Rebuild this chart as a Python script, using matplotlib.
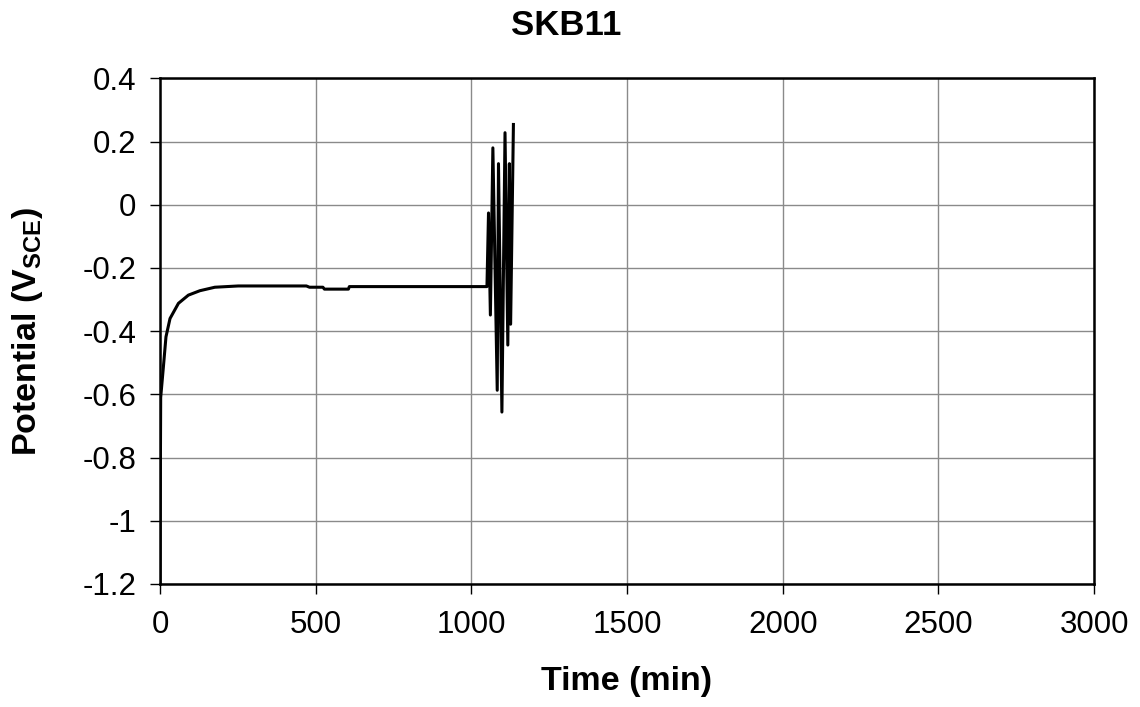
import numpy as np
import matplotlib
matplotlib.use("Agg")
import matplotlib.pyplot as plt

plt.rcParams['font.family'] = ['Liberation Sans', 'DejaVu Sans']
plt.rcParams['mathtext.fontset'] = 'custom'
plt.rcParams['mathtext.bf'] = 'Liberation Sans:bold'
plt.rcParams['mathtext.rm'] = 'Liberation Sans:bold'

# time (min) and potential (V vs SCE)
time_min = [0, 1, 2, 10.7, 19, 32, 59, 91, 128, 176, 251, 470, 480, 523, 528,
            605, 608, 1050,
            1055, 1061, 1069, 1083, 1087, 1098, 1108, 1117, 1122, 1126, 1135]
potential = [-1.2, -0.85, -0.61, -0.513, -0.418, -0.36, -0.312, -0.286, -0.272,
             -0.261, -0.257, -0.257, -0.261, -0.261, -0.267,
             -0.267, -0.259, -0.259,
             -0.026, -0.349, 0.18, -0.587, 0.13, -0.656, 0.228, -0.444, 0.13,
             -0.378, 0.254]

xticks = [0, 500, 1000, 1500, 2000, 2500, 3000]
yticks = [0.4, 0.2, 0, -0.2, -0.4, -0.6, -0.8, -1, -1.2]
ytick_labels = ['0.4', '0.2', '0', '-0.2', '-0.4', '-0.6', '-0.8', '-1', '-1.2']

fig = plt.figure(figsize=(11.4, 7.07), dpi=100)
ax = fig.add_axes([0.1404, 0.174, 0.8193, 0.7152])

ax.plot(time_min, potential, color='black', linewidth=2.2, zorder=3)

ax.set_xlim(0, 3000)
ax.set_ylim(-1.2, 0.4)
ax.set_xticks(xticks)
ax.set_yticks(yticks)
ax.set_yticklabels(ytick_labels)
ax.grid(True, color='#8a8a8a', linewidth=1.0)
ax.set_axisbelow(True)
for s in ax.spines.values():
    s.set_linewidth(1.8)
ax.tick_params(axis='y', direction='out', length=7, width=1, labelsize=22.5, pad=10)
ax.tick_params(axis='x', direction='out', length=7, width=1, labelsize=22.5, pad=12)

fig.text(0.497, 0.9646, 'SKB11', fontsize=25, fontweight='bold',
         ha='center', va='center')
fig.text(0.55, 0.0354, 'Time (min)', fontsize=24.5, fontweight='bold',
         ha='center', va='center')
fig.text(0.0237, 0.5304, r'Potential (V$_{\mathbf{SCE}}$)', fontsize=24.5,
         fontweight='bold', ha='center', va='center', rotation=90)

fig.savefig('out.png', dpi=100)
